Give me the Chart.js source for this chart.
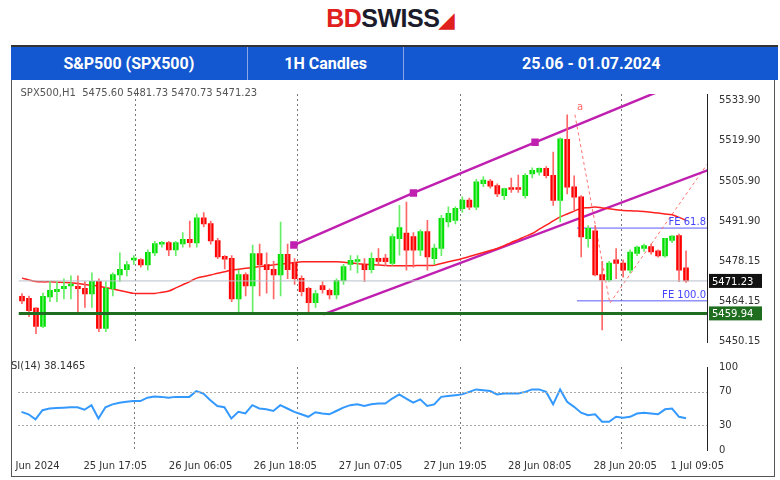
<!DOCTYPE html>
<html>
<head>
<meta charset="utf-8">
<script src="https://cdn.jsdelivr.net/npm/chart.js@4.4.1/dist/chart.umd.min.js"></script>
<style>
  body { margin: 0; width: 780px; height: 480px; background: #fff; position: relative; overflow: hidden; font-family: Roboto, "Liberation Sans", sans-serif; }
  #logo { position: absolute; top: 4px; left: 0; width: 780px; text-align: center; font: bold 25px "Liberation Sans", Arial, sans-serif; letter-spacing: -0.5px; }
  #logo .bd { color: #e0201c; }
  #logo .sw { color: #1b1b2b; }
  #logo .fl { color: #e0201c; font-size: 20px; }
  #bar { position: absolute; left: 11px; top: 45px; width: 767px; height: 33px; background: #1357d1; border-top: 2px solid #333; display: flex; color: #fff; font: bold 16px Roboto, sans-serif; }
  #bar div { display: flex; align-items: center; justify-content: center; border-right: 1px solid #8aa6e6; }
  #panel { position: absolute; left: 11px; top: 80px; width: 762px; height: 396px; border: 1px solid #555; border-top: none; }
  canvas { position: absolute; }
</style>
</head>
<body>
<div id="logo"><span class="bd">BD</span><span class="sw">SWISS</span><span class="fl">&#9698;</span></div>
<div id="bar">
  <div style="width:236px">S&amp;P500 (SPX500)</div>
  <div style="width:156px">1H Candles</div>
  <div style="width:374px;border-right:none">25.06 - 01.07.2024</div>
</div>
<div id="panel"></div>
<canvas id="main" style="left:12px;top:84px;width:763px;height:268px" width="763" height="268"></canvas>
<canvas id="rsi" style="left:12px;top:352px;width:763px;height:124px" width="763" height="124"></canvas>
<script>
// candles (1H)
const opens  = [5465.7,5465.0,5461.6,5455.4,5465.7,5467.5,5468.5,5469.5,5469.2,5468.5,5466.7,5470.9,5454.7,5468.5,5473.3,5475.1,5478.5,5478.5,5476.8,5481.0,5484.0,5484.4,5482.0,5484.1,5485.5,5484.4,5493.0,5491.0,5485.1,5479.6,5478.9,5465.0,5473.3,5469.5,5480.6,5476.8,5475.1,5473.3,5480.3,5477.5,5472.0,5468.5,5463.7,5469.5,5467.8,5466.4,5471.3,5477.0,5478.0,5476.8,5475.1,5478.9,
                5479.0,5477.3,5485.9,5487.7,5486.5,5481.9,5488.2,5479.0,5482.5,5491.7,5492.3,5496.3,5499.2,5496.9,5505.0,5505.8,5504.2,5500.9,5503.5,5503.5,5500.9,5508.4,5509.0,5510.2,5507.8,5499.2,5520.3,5503.8,5500.3,5485.9,5488.5,5473.3,5471.5,5478.4,5477.3,5475.0,5480.8,5482.5,5483.0,5481.5,5479.9,5485.3,5486.8,5475.6];
const highs  = [5466.8,5466.0,5462.0,5467.0,5471.0,5471.0,5472.0,5473.0,5473.0,5471.0,5474.0,5472.0,5471.0,5474.0,5481.0,5478.0,5480.0,5479.0,5482.0,5485.0,5485.0,5485.0,5485.0,5488.0,5492.0,5494.5,5495.0,5492.0,5486.0,5480.0,5480.0,5475.0,5474.0,5483.7,5484.0,5481.0,5478.0,5491.7,5484.0,5479.0,5473.0,5469.0,5468.0,5471.0,5468.5,5472.0,5477.0,5480.0,5480.0,5479.0,5481.0,5482.5,
                5480.5,5487.5,5497.5,5498.6,5488.0,5489.0,5492.3,5484.0,5494.0,5497.0,5497.0,5500.5,5500.0,5506.5,5507.5,5506.5,5505.0,5503.5,5507.0,5508.0,5508.5,5510.5,5510.5,5511.0,5516.0,5521.0,5529.0,5507.8,5500.9,5490.5,5490.5,5478.0,5478.0,5482.5,5478.5,5482.0,5483.3,5484.0,5484.0,5482.0,5486.0,5487.0,5487.5,5481.73];
const lows   = [5463.3,5458.8,5452.9,5455.0,5464.0,5464.0,5465.0,5465.0,5460.0,5462.0,5462.0,5453.6,5453.6,5466.0,5471.0,5473.0,5477.0,5476.0,5475.0,5480.0,5483.0,5480.0,5480.0,5483.0,5483.0,5483.0,5490.0,5484.0,5479.0,5475.4,5464.0,5460.5,5466.0,5459.6,5466.0,5467.0,5465.0,5466.0,5472.0,5470.0,5466.0,5459.6,5462.0,5467.0,5465.0,5465.0,5470.0,5475.0,5474.0,5471.0,5474.0,5477.0,
                5476.5,5476.7,5480.2,5475.0,5476.0,5480.0,5475.0,5477.0,5480.0,5490.0,5491.0,5495.0,5496.0,5496.0,5504.0,5503.5,5500.5,5499.5,5502.0,5502.0,5500.0,5507.0,5508.0,5507.0,5497.5,5491.7,5501.5,5496.0,5479.6,5483.0,5473.0,5454.2,5471.0,5472.0,5472.5,5474.0,5480.0,5481.5,5480.5,5479.5,5479.5,5484.5,5471.0,5470.73];
const closes = [5464.3,5460.9,5455.4,5465.7,5467.8,5468.2,5469.2,5470.0,5468.5,5466.7,5470.9,5454.7,5468.5,5473.3,5475.1,5476.8,5479.0,5476.8,5481.0,5484.1,5484.5,5482.0,5484.4,5485.5,5484.5,5493.0,5491.0,5485.1,5479.6,5478.8,5465.0,5473.3,5469.5,5480.6,5476.8,5475.1,5473.3,5480.3,5475.1,5472.0,5467.5,5463.7,5466.7,5468.2,5466.4,5471.3,5476.1,5478.2,5478.5,5475.1,5478.9,5478.0,
                5477.9,5486.5,5489.6,5481.9,5481.9,5488.2,5479.6,5482.5,5492.8,5494.6,5496.3,5499.2,5496.9,5505.5,5506.1,5504.2,5501.5,5503.2,5503.0,5503.0,5507.8,5509.5,5510.2,5507.8,5499.2,5520.5,5503.8,5500.3,5486.5,5489.4,5473.3,5471.5,5477.3,5477.3,5475.0,5481.1,5482.8,5483.4,5481.3,5479.9,5485.9,5486.7,5475.0,5471.23];
// red moving average
const maLine = [5472.2,5471.6,5471.0,5470.9,5470.9,5470.8,5470.7,5470.6,5470.3,5470.0,5469.7,5469.4,5468.9,5468.4,5467.9,5467.4,5466.9,5466.9,5466.9,5466.9,5467.3,5467.7,5468.8,5469.9,5471.0,5472.2,5472.8,5473.3,5473.9,5474.4,5475.0,5475.3,5475.6,5475.9,5476.2,5476.5,5476.8,5477.1,5477.3,5477.6,5477.9,5477.9,5477.9,5477.9,5477.9,5477.9,5477.7,5477.5,5477.2,5477.0,5476.9,5476.8,
                5476.6,5476.5,5476.5,5476.5,5476.5,5476.6,5476.6,5476.7,5477.3,5477.9,5478.4,5479.0,5479.7,5480.4,5481.1,5481.8,5482.5,5483.5,5484.6,5485.6,5486.7,5487.7,5489.2,5490.6,5492.1,5493.5,5494.5,5495.5,5496.5,5496.7,5496.9,5496.6,5496.3,5496.0,5495.7,5495.6,5495.5,5495.4,5495.1,5494.8,5494.5,5494.2,5493.3,5492.3];
// RSI(14)
const rsiLine = [46,43,37,48,50,50.5,51,51.5,51.5,48.5,54,38,51.5,55,57,58,59,59,63,64.5,64,63,64,64,64,71,68,60,53,51.5,38,46,44,54,50,49,47,54,50,46,43,40,45.5,44,43,47,51,54,55,53,55,56,
                 56,62,67,62,57,61,53,55,64,65,66,67,70,73,72,71,67,68,68,68,70,73,73,70,55,73,58,52,45,42,43,34,34,40,39,40,44,45,44,43,49,50,40,38.1465];
// price axis ticks and time labels
const priceTicks = [5450.15,5464.15,5478.15,5491.90,5505.90,5519.90,5533.90];
const rsiTicks = [0,30,70,100];
const timeLabels = ['Jun 2024','25 Jun 17:05','26 Jun 06:05','26 Jun 18:05','27 Jun 07:05','27 Jun 19:05','28 Jun 08:05','28 Jun 20:05','1 Jul 09:05'];
const timeLabelIdx = [2.3,13.4,25.6,37.7,49.9,62,74.1,86.3,96.6];
const sepIdx = [16.1,39.4,62.7,85.7];
// drawn objects
const channelUp = [[38.9,5483.7],[56,5501.8],[73.4,5519.4],[93.5,5539.5]];
const channelDn = [[43.1,5459.6],[98.1,5509.7]];
const zigzag = [[79.1,5529.0],[84.1,5463.5],[98.0,5511.7]];
const feLevels = [[5489.6,'FE 61.8'],[5464.3,'FE 100.0']];
const lastPrice = 5471.23, supportLevel = 5459.94;

const idx = closes.map((c, i) => i);
const xMin = -0.5, xMax = 98;
const up = idx.map(i => closes[i] >= opens[i]);
const candleCol = idx.map(i => up[i] ? '#00e000' : '#ff0000');
const wickCol = idx.map(i => up[i] ? '#66ee66' : '#ff6666');
const pts = arr => arr.map(p => ({x: p[0], y: p[1]}));
const flat = (y, a, b) => [{x: a, y: y}, {x: b, y: y}];

const font = {family: 'Tahoma, "DejaVu Sans", sans-serif', size: 10};

const overlay = {
  id: 'overlay',
  beforeDatasetsDraw(chart) {
    const {ctx, chartArea: a, scales} = chart;
    ctx.save();
    ctx.strokeStyle = '#777'; ctx.setLineDash([2, 3]); ctx.lineWidth = 1;
    sepIdx.forEach(v => {
      const x = Math.round(scales.x.getPixelForValue(v)) + 0.5;
      ctx.beginPath(); ctx.moveTo(x, a.top); ctx.lineTo(x, a.bottom); ctx.stroke();
    });
    ctx.restore();
  },
  afterDraw(chart) {
    const {ctx, chartArea: a, scales} = chart;
    ctx.save();
    ctx.font = '10px Tahoma, "DejaVu Sans", sans-serif';
    if (chart.canvas.id === 'main') {
      ctx.fillStyle = '#555';
      ctx.fillText('SPX500,H1  5475.60 5481.73 5470.73 5471.23', a.left + 2, a.top + 2);
      ctx.fillStyle = '#4444ff'; ctx.textAlign = 'right';
      feLevels.forEach(f => ctx.fillText(f[1], a.right - 1, scales.y.getPixelForValue(f[0]) - 3));
      ctx.textAlign = 'left'; ctx.textBaseline = 'middle';
      [[lastPrice, '#111'], [supportLevel, '#1f6e1f']].forEach(p => {
        const y = scales.y.getPixelForValue(p[0]);
        ctx.fillStyle = p[1]; ctx.fillRect(a.right + 2, y - 7, 53, 14);
        ctx.fillStyle = '#fff'; ctx.fillText(p[0].toFixed(2), a.right + 5, y + 1);
      });
      ctx.fillStyle = '#ff6666'; ctx.fillText('a', scales.x.getPixelForValue(79.4), scales.y.getPixelForValue(5531.5));
    } else {
      ctx.fillStyle = '#333'; ctx.textBaseline = 'top';
      ctx.fillText('RSI(14) 38.1465', a.left - 14, a.top - 6);
      ctx.strokeStyle = '#aaa'; ctx.setLineDash([2, 2]);
      [30, 70].forEach(v => {
        const y = Math.round(scales.y.getPixelForValue(v)) + 0.5;
        ctx.beginPath(); ctx.moveTo(a.left, y); ctx.lineTo(a.right, y); ctx.stroke();
      });
    }
    ctx.restore();
  }
};

const xAxis = (showLabels) => ({
  type: 'linear', min: xMin, max: xMax, offset: false,
  display: showLabels,
  grid: {display: false},
  border: {display: false},
  afterBuildTicks: s => { s.ticks = timeLabelIdx.map(v => ({value: v})); },
  ticks: {autoSkip: false, maxRotation: 0, color: '#333', font: font, padding: 2,
          callback: (v, i) => timeLabels[i]}
});

new Chart(document.getElementById('main'), {
  type: 'bar',
  data: {
    datasets: [
      {type: 'line', data: flat(lastPrice, xMin, xMax), borderColor: '#b8c0c8', borderWidth: 1, pointRadius: 0},
      {type: 'line', data: flat(supportLevel, xMin, xMax), borderColor: '#1f6e1f', borderWidth: 3, pointRadius: 0},
      {data: idx.map(i => ({x: i, y: [lows[i], highs[i]]})), backgroundColor: wickCol, barThickness: 1, grouped: false},
      {data: idx.map(i => ({x: i, y: [Math.min(opens[i], closes[i]), Math.max(opens[i], closes[i]) + 0.15]})), backgroundColor: candleCol, barThickness: 5, grouped: false},
      {type: 'line', data: idx.map(i => ({x: i, y: maLine[i]})), borderColor: '#ff2020', borderWidth: 1.5, pointRadius: 0, tension: 0.3},
      {type: 'line', data: pts(channelUp), borderColor: '#c020b0', borderWidth: 2.5, pointStyle: 'rect', pointRadius: [3.5,3.5,3.5,0], pointBackgroundColor: '#c020b0'},
      {type: 'line', data: pts(channelDn), borderColor: '#c020b0', borderWidth: 2.5, pointRadius: 0},
      {type: 'line', data: pts(zigzag), borderColor: '#ff7070', borderWidth: 1, borderDash: [3, 3], pointRadius: 0},
      {type: 'line', data: flat(feLevels[0][0], 79.4, xMax), borderColor: '#5a5aff', borderWidth: 1, pointRadius: 0},
      {type: 'line', data: flat(feLevels[1][0], 79.4, xMax), borderColor: '#5a5aff', borderWidth: 1, pointRadius: 0}
    ]
  },
  options: {
    responsive: false, animation: false, clip: 0,
    layout: {padding: {left: 6, top: 4, right: 0, bottom: 2}},
    plugins: {legend: {display: false}, tooltip: {enabled: false}},
    scales: {
      x: xAxis(false),
      y: {
        position: 'right', min: 5450.0, max: 5536.2,
        grid: {display: false, drawTicks: true},
        border: {color: '#222'},
        afterBuildTicks: s => { s.ticks = priceTicks.map(v => ({value: v})); },
        afterFit: s => { s.width = 68; },
        ticks: {color: '#333', font: font, padding: 4, callback: v => v.toFixed(2)}
      }
    }
  },
  plugins: [overlay]
});

new Chart(document.getElementById('rsi'), {
  type: 'line',
  data: {datasets: [{data: idx.map(i => ({x: i, y: rsiLine[i]})), borderColor: '#3399ff', borderWidth: 2, pointRadius: 0}]},
  options: {
    responsive: false, animation: false,
    layout: {padding: {left: 6, top: 15, right: 0, bottom: 2}},
    plugins: {legend: {display: false}, tooltip: {enabled: false}},
    scales: {
      x: xAxis(true),
      y: {
        position: 'right', min: 0, max: 100,
        grid: {display: false},
        border: {color: '#222'},
        afterBuildTicks: s => { s.ticks = rsiTicks.map(v => ({value: v})); },
        afterFit: s => { s.width = 68; },
        ticks: {color: '#333', font: font, padding: 4}
      }
    }
  },
  plugins: [overlay]
});
</script>
</body>
</html>
